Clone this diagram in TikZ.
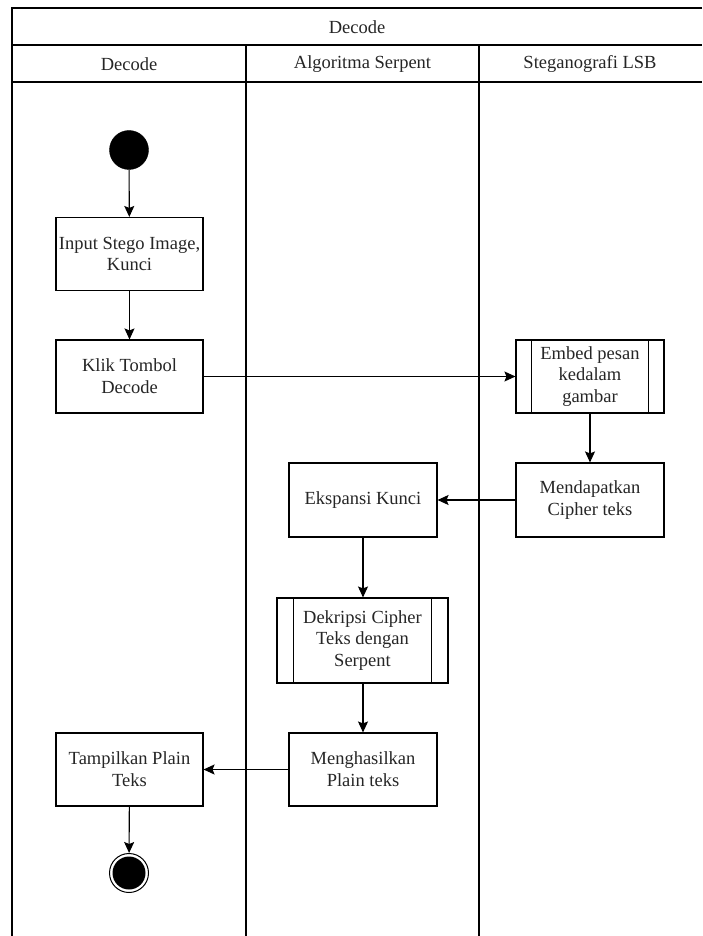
\documentclass[tikz,border=0pt]{standalone}
\usepackage{fontspec}
\setmainfont{Liberation Serif}
\usetikzlibrary{arrows.meta}

\begin{document}
\begin{tikzpicture}[x=1pt, y=-1pt,
  lane/.style={line width=1.1pt, draw=black},
  hdr/.style={font=\fontsize{18.5}{21.8}\selectfont, text=black!85, anchor=center},
  act/.style={draw=black, line width=1.1pt, fill=white, align=center,
    font=\fontsize{18.5}{21.8}\selectfont, text=black!85,
    minimum width=147pt, minimum height=73pt, inner sep=2pt},
  sub/.style={act},
  flow/.style={line width=1.1pt, -{Stealth[length=11pt, width=10pt, inset=2pt]}},
  startnode/.style={circle, fill=black, draw=black, minimum size=39pt, inner sep=0pt},
  endring/.style={circle, fill=white, draw=black, line width=1pt, minimum size=39pt, inner sep=0pt},
  enddot/.style={circle, fill=black, minimum size=33pt, inner sep=0pt}]

  \useasboundingbox (0,0) rectangle (702,936);
  \fill[white] (0,0) rectangle (702,936);

  % pool and lane frame
  \draw[lane] (702,8) -- (12,8) -- (12,936);
  \draw[lane] (12,45) -- (702,45);
  \draw[lane] (12,82) -- (702,82);
  \draw[lane] (246,45) -- (246,936);
  \draw[lane] (479,45) -- (479,936);

  % headers
  \node[hdr] (pool) at (357,27) {Decode};
  \node[hdr] (laneA) at (129,64) {Decode};
  \node[hdr] (laneB) at (362.5,64) {Algoritma Serpent};
  \node[hdr] (laneC) at (590,64) {Steganografi LSB};

  % activities
  \node[startnode] (start) at (129,150) {};
  \node[act] (input) at (129.5,254) {Input Stego Image,\\Kunci};
  \node[act] (klik) at (129.5,376.5) {Klik Tombol\\Decode};
  \node[sub, minimum width=148pt] (embed) at (590,376.5) {Embed pesan\\kedalam\\gambar};
  \draw[line width=1.1pt] ([xshift=16pt]embed.north west) -- ([xshift=16pt]embed.south west);
  \draw[line width=1.1pt] ([xshift=-16pt]embed.north east) -- ([xshift=-16pt]embed.south east);
  \node[act, minimum width=148pt, minimum height=74pt] (dapat) at (590,500) {Mendapatkan\\Cipher teks};
  \node[act, minimum width=148pt, minimum height=74pt] (ekspansi) at (363,500) {Ekspansi Kunci};
  \node[sub, minimum width=171pt, minimum height=85pt] (dekripsi) at (362.5,640.5) {Dekripsi Cipher\\Teks dengan\\Serpent};
  \draw[line width=1.1pt] ([xshift=17pt]dekripsi.north west) -- ([xshift=17pt]dekripsi.south west);
  \draw[line width=1.1pt] ([xshift=-17pt]dekripsi.north east) -- ([xshift=-17pt]dekripsi.south east);
  \node[act, minimum width=148pt] (hasil) at (363,769.5) {Menghasilkan\\Plain teks};
  \node[act] (tampil) at (129.5,769.5) {Tampilkan Plain\\Teks};
  \node[endring] (stop) at (129,873) {};
  \node[enddot] (stopdot) at (stop.center) {};

  % control flow
  \draw[flow] (start) -- (input);
  \draw[flow] (input) -- (klik);
  \draw[flow] (klik) -- (embed);
  \draw[flow] (embed) -- (dapat);
  \draw[flow] (dapat) -- (ekspansi);
  \draw[flow] (ekspansi.south) -- (ekspansi.south |- dekripsi.north);
  \draw[flow] (ekspansi.south |- dekripsi.south) -- (ekspansi.south |- hasil.north);
  \draw[flow] (hasil) -- (tampil);
  \draw[flow] (tampil) -- (stop);
\end{tikzpicture}
\end{document}
